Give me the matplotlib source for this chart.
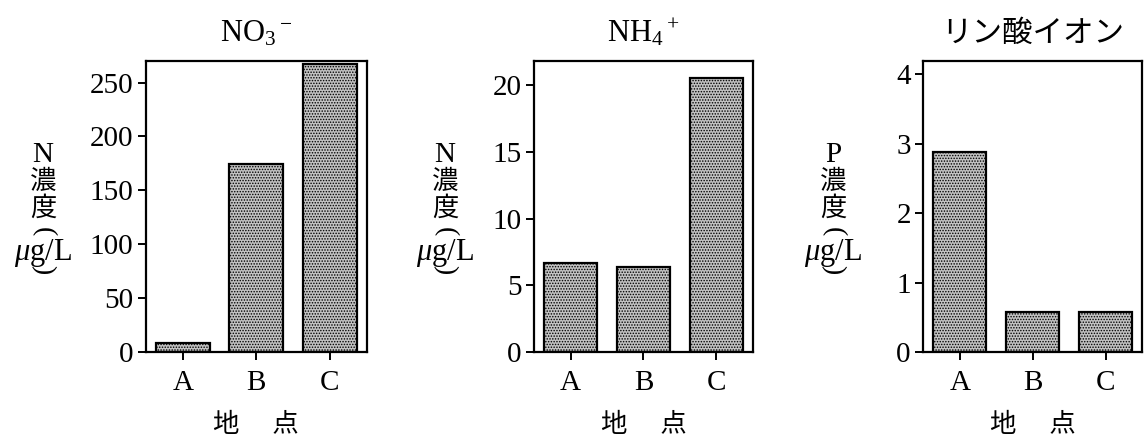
import matplotlib
matplotlib.use("Agg")
import matplotlib.pyplot as plt

plt.rcParams['font.family'] = ['Liberation Serif', 'Noto Sans CJK JP', 'DejaVu Sans']
plt.rcParams['mathtext.fontset'] = 'custom'
plt.rcParams['mathtext.rm'] = 'Liberation Serif'
plt.rcParams['mathtext.it'] = 'Liberation Serif:italic'
plt.rcParams['hatch.linewidth'] = 0.7
plt.rcParams['hatch.color'] = '#4a4a4a'

sites = ['A', 'B', 'C']
no3 = [8, 174, 267]
nh4 = [6.7, 6.4, 20.5]
po4 = [2.88, 0.57, 0.57]

titles = ['NO$_3$$^-$', 'NH$_4$$^+$', 'リン酸イオン']
ylims = [270, 21.8, 4.19]
yticks = [[0, 50, 100, 150, 200, 250], [0, 5, 10, 15, 20], [0, 1, 2, 3, 4]]
elements = ['N', 'N', 'P']
xlabel = '地\u3000 点'

W, H = 1145, 440
fig = plt.figure(figsize=(W / 100, H / 100), dpi=100)

lefts = [146, 534.3, 923.3]
widths = [220.7, 218.4, 219]
label_x = [43, 445, 833]

for i, vals in enumerate([no3, nh4, po4]):
    ax = fig.add_axes([lefts[i] / W, 88 / H, widths[i] / W, 291 / H])
    ax.bar(range(len(sites)), vals, width=0.73, color='#c2c2c2', edgecolor='black',
           linewidth=1.6, hatch='......')
    ax.set_xlim(-0.5, 2.5)
    ax.set_ylim(0, ylims[i])
    ax.set_yticks(yticks[i])
    ax.set_xticks(range(len(sites)))
    ax.set_xticklabels(sites)
    ax.tick_params(axis='both', direction='out', length=6, width=1.4, labelsize=21)
    ax.tick_params(axis='y', pad=3)
    ax.tick_params(axis='x', pad=7)
    for s in ax.spines.values():
        s.set_linewidth(1.6)
    ax.set_title(titles[i], fontsize=22, pad=14)
    cx = lefts[i] + widths[i] / 2
    fig.text(cx / W, 1 - 425 / H, xlabel, ha='center', va='center', fontsize=19)
    x = label_x[i] / W
    fig.text(x, 1 - 155 / H, elements[i], ha='center', va='center', fontsize=21)
    fig.text(x, 1 - 182 / H, '濃', ha='center', va='center', fontsize=19)
    fig.text(x, 1 - 208 / H, '度', ha='center', va='center', fontsize=19)
    fig.text(x, 1 - 232 / H, '(', ha='center', va='center', fontsize=20,
             rotation=-90, rotation_mode='anchor')
    fig.text(x, 1 - 253 / H, '$\\mu$g/L', ha='center', va='center', fontsize=22)
    fig.text(x, 1 - 270 / H, ')', ha='center', va='center', fontsize=20,
             rotation=-90, rotation_mode='anchor')

fig.savefig('out.png', dpi=100)
